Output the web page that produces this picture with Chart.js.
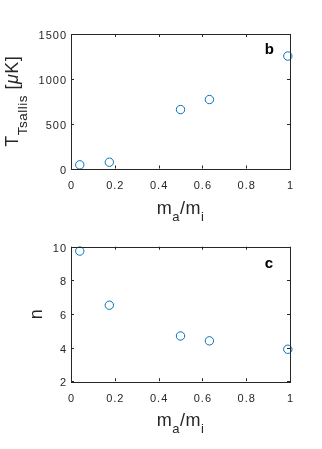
<!DOCTYPE html>
<html>
<head>
<meta charset="utf-8">
<script src="https://cdn.jsdelivr.net/npm/chart.js@4.4.1/dist/chart.umd.min.js"></script>
<style>
    html, body { margin: 0; padding: 0; background: #fff; }
    body { width: 322px; height: 449px; position: relative; overflow: hidden; }
    .panel { position: absolute; left: 0; width: 322px; }
    #panelB { top: 0; height: 224px; }
    #panelC { top: 224px; height: 225px; }
</style>
</head>
<body>
<div class="panel" id="panelB"><canvas id="chartB"></canvas></div>
<div class="panel" id="panelC"><canvas id="chartC"></canvas></div>
<script>
// data
const massRatio = [0.04, 0.175, 0.50, 0.632, 0.99];
const tTsallis = [41, 70, 657, 769, 1254];
const nExponent = [9.74, 6.52, 4.69, 4.40, 3.90];

const xTicks = [0, 0.2, 0.4, 0.6, 0.8, 1];
const yTicksB = [0, 500, 1000, 1500];
const yTicksC = [2, 4, 6, 8, 10];

const AXIS_COLOR = '#262626';
const MARKER_COLOR = '#0072BD';
const FONT = "'Liberation Sans', Arial, sans-serif";

// draw text made of parts (normal / subscript / italic) along a line
function drawRich(ctx, parts, x, y, rotate) {
    ctx.save();
    ctx.translate(x, y);
    if (rotate) ctx.rotate(-Math.PI / 2);
    ctx.fillStyle = AXIS_COLOR;
    ctx.textBaseline = 'alphabetic';
    ctx.textAlign = 'left';
    ctx.letterSpacing = '0.5px';
    let total = 0;
    parts.forEach(p => {
        ctx.font = `${p.style || ''} ${p.size}px ${FONT}`;
        p.w = ctx.measureText(p.text).width;
        total += p.w;
    });
    let cx = -total / 2;
    parts.forEach(p => {
        ctx.font = `${p.style || ''} ${p.size}px ${FONT}`;
        ctx.fillText(p.text, cx, p.dy || 0);
        cx += p.w;
    });
    ctx.restore();
}

const boxPlugin = {
    id: 'matlabBox',
    beforeDraw(chart) {
        // MATLAB tick labels are a bit more spread out
        chart.ctx.letterSpacing = '1px';
    },
    afterDatasetsDraw(chart) {
        chart.ctx.letterSpacing = '0px';
    },
    afterDraw(chart, args, opts) {
        const ctx = chart.ctx;
        const a = chart.chartArea;
        const xs = chart.scales.x;
        const ys = chart.scales.y;
        const tl = 3;
        ctx.save();
        ctx.letterSpacing = '0px';
        ctx.strokeStyle = AXIS_COLOR;
        ctx.lineWidth = 1;
        ctx.beginPath();
        xs.ticks.forEach(t => {
            const px = Math.round(xs.getPixelForValue(t.value)) + 0.5;
            ctx.moveTo(px, a.bottom); ctx.lineTo(px, a.bottom - tl);
            ctx.moveTo(px, a.top); ctx.lineTo(px, a.top + tl);
        });
        ys.ticks.forEach(t => {
            const py = Math.round(ys.getPixelForValue(t.value)) + 0.5;
            ctx.moveTo(a.left, py); ctx.lineTo(a.left + tl, py);
            ctx.moveTo(a.right, py); ctx.lineTo(a.right - tl, py);
        });
        ctx.stroke();
        ctx.strokeRect(Math.round(a.left) + 0.5, Math.round(a.top) + 0.5,
            Math.round(a.right - a.left), Math.round(a.bottom - a.top));

        // panel letter
        ctx.fillStyle = '#000';
        ctx.font = `bold 15px ${FONT}`;
        ctx.textAlign = 'left';
        ctx.textBaseline = 'alphabetic';
        ctx.fillText(opts.letter, xs.getPixelForValue(0.885), a.top + opts.letterDy);

        // axis titles
        const mid = (a.left + a.right) / 2;
        drawRich(ctx, [
            { text: 'm', size: 18 },
            { text: 'a', size: 13, dy: 7 },
            { text: '/m', size: 18 },
            { text: 'i', size: 13, dy: 7 }
        ], mid, a.bottom + 45, false);
        drawRich(ctx, opts.yTitle, opts.yTitleX, (a.top + a.bottom) / 2, true);
        ctx.restore();
    }
};

function makeChart(id, yValues, yTicks, letter, letterDy, yTitle, yTitleX, topPad, height) {
    const ctx = document.getElementById(id);
    const bottom = topPad + 134.5;
    return new Chart(ctx, {
        type: 'scatter',
        data: {
            datasets: [{
                data: massRatio.map((m, i) => ({ x: m, y: yValues[i] })),
                pointStyle: 'circle',
                pointRadius: 4.2,
                pointBorderWidth: 1,
                pointBorderColor: MARKER_COLOR,
                pointBackgroundColor: 'rgba(0,0,0,0)',
                showLine: false,
                clip: false
            }]
        },
        options: {
            responsive: true,
            maintainAspectRatio: false,
            animation: false,
            layout: { padding: { left: 0, right: 32, top: topPad, bottom: 0 } },
            plugins: {
                legend: { display: false },
                tooltip: { enabled: false },
                matlabBox: { letter: letter, letterDy: letterDy, yTitle: yTitle, yTitleX: yTitleX }
            },
            scales: {
                x: {
                    type: 'linear',
                    min: xTicks[0],
                    max: xTicks[xTicks.length - 1],
                    afterBuildTicks: s => { s.ticks = xTicks.map(v => ({ value: v })); },
                    afterFit: s => { s.height = height - bottom; },
                    grid: { display: false, drawTicks: false },
                    border: { display: false },
                    ticks: {
                        color: AXIS_COLOR,
                        padding: 11,
                        maxRotation: 0,
                        labelOffset: 0.5,
                        font: { family: FONT, size: 11 },
                        callback: v => String(v)
                    }
                },
                y: {
                    type: 'linear',
                    min: yTicks[0],
                    max: yTicks[yTicks.length - 1],
                    afterBuildTicks: s => { s.ticks = yTicks.map(v => ({ value: v })); },
                    afterFit: s => { s.width = 71; },
                    grid: { display: false, drawTicks: false },
                    border: { display: false },
                    ticks: {
                        color: AXIS_COLOR,
                        padding: 4,
                        labelOffset: 2,
                        font: { family: FONT, size: 11 },
                        callback: v => String(v)
                    }
                }
            }
        },
        plugins: [boxPlugin]
    });
}

makeChart('chartB', tTsallis, yTicksB, 'b', 20, [
    { text: 'T', size: 18 },
    { text: 'Tsallis', size: 13.5, dy: 9 },
    { text: ' [', size: 18 },
    { text: 'μ', size: 18, style: 'italic' },
    { text: 'K]', size: 18 }
], 18, 34, 224);

makeChart('chartC', nExponent, yTicksC, 'c', 21.5, [
    { text: 'n', size: 18 }
], 42, 22.7, 225);
</script>
</body>
</html>
